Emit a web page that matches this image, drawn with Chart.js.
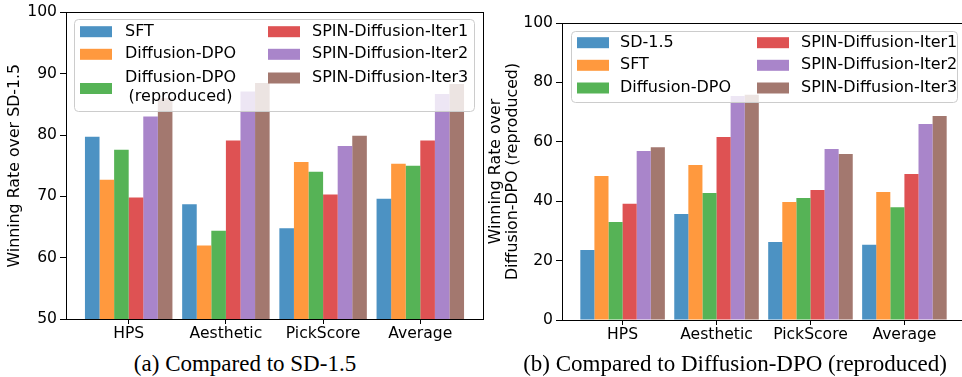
<!DOCTYPE html>
<html>
<head>
<meta charset="utf-8">
<script src="https://cdn.jsdelivr.net/npm/chart.js@4/dist/chart.umd.min.js"></script>
<style>
body { margin:0; background:#fff; width:962px; height:377px; overflow:hidden; position:relative; }
canvas { position:absolute; top:0; }
.cap { position:absolute; top:352px; font-family:"Liberation Serif", serif; font-size:23px; line-height:1; white-space:nowrap; transform:translateX(-50%); color:#000; }
</style>
</head>
<body>
<canvas id="left" width="490" height="345" style="left:0"></canvas>
<canvas id="right" width="484" height="345" style="left:484px"></canvas>
<div class="cap" style="left:245px">(a) Compared to SD-1.5</div>
<div class="cap" style="left:735px">(b) Compared to Diffusion-DPO (reproduced)</div>
<script>
// categories on the x axis
const categories = ['HPS', 'Aesthetic', 'PickScore', 'Average'];

// (a) winning rate over SD-1.5
const sftA = [79.7, 68.7, 64.8, 69.6];
const dpoA = [72.7, 62.0, 75.6, 75.3];
const dpoReproA = [77.6, 64.4, 74.0, 75.0];
const iter1A = [69.8, 79.1, 70.3, 79.1];
const iter2A = [83.0, 87.1, 78.2, 86.7];
const iter3A = [86.0, 88.5, 79.9, 88.3];

// (b) winning rate over Diffusion-DPO (reproduced)
const sdB = [23.6, 35.7, 26.3, 25.3];
const sftB = [48.5, 52.2, 39.7, 43.1];
const dpoB = [33.0, 42.8, 41.1, 38.0];
const iter1B = [39.1, 61.6, 43.8, 49.2];
const iter2B = [56.9, 75.4, 57.6, 66.0];
const iter3B = [58.2, 75.8, 55.9, 68.7];

const yTicksA = [50, 60, 70, 80, 90, 100];
const yTicksB = [0, 20, 40, 60, 80, 100];

// tab10 at alpha 0.8
const blue = 'rgba(31,119,180,0.8)';
const orange = 'rgba(255,127,14,0.8)';
const green = 'rgba(44,160,44,0.8)';
const red = 'rgba(214,39,40,0.8)';
const purple = 'rgba(148,103,189,0.8)';
const brown = 'rgba(140,86,75,0.8)';

const FONT = 'DejaVu Sans';

function ds(label, values, color) {
  return {
    label: label,
    data: values.map((v, i) => ({ x: i, y: v })),
    backgroundColor: color,
    borderWidth: 0,
    categoryPercentage: 0.9,
    barPercentage: 1.0
  };
}

// legend box inside the axes + full frame around the plot
const boxLegend = {
  id: 'boxLegend',
  afterDatasetsDraw(chart, args, opts) {
    const ctx = chart.ctx;
    const b = opts.box;
    ctx.save();
    ctx.beginPath();
    ctx.roundRect(b.x + 0.5, b.y + 0.5, b.w, b.h, 4);
    ctx.fillStyle = 'rgba(255,255,255,0.8)';
    ctx.fill();
    ctx.strokeStyle = '#cccccc';
    ctx.lineWidth = 1;
    ctx.stroke();
    ctx.font = '16px "' + FONT + '"';
    ctx.textBaseline = 'middle';
    chart.data.datasets.forEach((d, i) => {
      const it = opts.items[i];
      ctx.fillStyle = d.backgroundColor;
      ctx.fillRect(it.px, (it.py || it.y) - 5.5, 32, 11);
      ctx.fillStyle = '#000';
      const lines = d.label.split('\n');
      if (lines.length === 1) {
        ctx.textAlign = 'left';
        ctx.fillText(lines[0], it.tx, it.y);
      } else {
        const w = ctx.measureText(lines[0]).width;
        ctx.textAlign = 'center';
        lines.forEach((l, k) => {
          ctx.fillText(l, it.tx + w / 2, it.y + (k - (lines.length - 1) / 2) * 18.4);
        });
      }
    });
    ctx.restore();
  },
  afterDraw(chart) {
    const a = chart.chartArea;
    const ctx = chart.ctx;
    ctx.save();
    ctx.strokeStyle = '#000';
    ctx.lineWidth = 1;
    ctx.strokeRect(Math.round(a.left) + 0.5, Math.round(a.top) + 0.5,
      Math.round(a.right - a.left), Math.round(a.bottom - a.top));
    ctx.restore();
  }
};

function makeChart(id, datasets, yTicks, yTitle, yWidth, xHeight, pad, legend, titlePad) {
  return new Chart(document.getElementById(id), {
    type: 'bar',
    data: { datasets: datasets },
    plugins: [boxLegend],
    options: {
      responsive: false,
      animation: false,
      layout: { padding: pad },
      plugins: {
        legend: { display: false },
        tooltip: { enabled: false },
        boxLegend: legend
      },
      scales: {
        x: {
          type: 'linear',
          min: -0.645,
          max: 3.645,
          offset: false,
          afterBuildTicks: s => { s.ticks = categories.map((c, i) => ({ value: i })); },
          afterFit: s => { s.height = xHeight; },
          ticks: {
            callback: v => categories[v],
            font: { family: FONT, size: 15.6 },
            color: '#000',
            padding: 1,
            maxRotation: 0,
            autoSkip: false
          },
          grid: { offset: false, drawOnChartArea: false, drawTicks: true, tickLength: 5, color: '#000' },
          border: { display: true, color: '#000', width: 1 }
        },
        y: {
          min: yTicks[0],
          max: yTicks[yTicks.length - 1],
          afterBuildTicks: s => { s.ticks = yTicks.map(v => ({ value: v })); },
          afterFit: s => { s.width = yWidth; },
          ticks: { font: { family: FONT, size: 15.6 }, color: '#000', padding: 3 },
          grid: { drawOnChartArea: false, drawTicks: true, tickLength: 6, color: '#000' },
          border: { display: true, color: '#000', width: 1 },
          title: {
            display: true,
            text: yTitle,
            color: '#000',
            font: { family: FONT, size: 15.8, lineHeight: 1.05 },
            padding: { top: titlePad, bottom: 0 }
          }
        }
      }
    }
  });
}

makeChart('left', [
  ds('SFT', sftA, blue),
  ds('Diffusion-DPO', dpoA, orange),
  ds('Diffusion-DPO\n(reproduced)', dpoReproA, green),
  ds('SPIN-Diffusion-Iter1', iter1A, red),
  ds('SPIN-Diffusion-Iter2', iter2A, purple),
  ds('SPIN-Diffusion-Iter3', iter3A, brown)
], yTicksA, 'Winning Rate over SD-1.5', 66, 26, { top: 11, right: 7, left: 0, bottom: 0 }, {
  box: { x: 74, y: 19, w: 400, h: 92 },
  items: [
    { px: 80, tx: 125, y: 31.7 },
    { px: 80, tx: 125, y: 54.3 },
    { px: 80, tx: 125, y: 87.5, py: 88.5 },
    { px: 268, tx: 312, y: 31.7 },
    { px: 268, tx: 312, y: 54.3 },
    { px: 268, tx: 312, y: 78 }
  ]
}, 7);

makeChart('right', [
  ds('SD-1.5', sdB, blue),
  ds('SFT', sftB, orange),
  ds('Diffusion-DPO', dpoB, green),
  ds('SPIN-Diffusion-Iter1', iter1B, red),
  ds('SPIN-Diffusion-Iter2', iter2B, purple),
  ds('SPIN-Diffusion-Iter3', iter3B, brown)
], yTicksB, ['Winning Rate over', 'Diffusion-DPO (reproduced)'], 78, 25, { top: 23, right: 3, left: 0, bottom: 0 }, {
  box: { x: 87, y: 31, w: 386, h: 71 },
  items: [
    { px: 93, tx: 136, y: 42.7 },
    { px: 93, tx: 136, y: 65.3 },
    { px: 93, tx: 136, y: 88 },
    { px: 273, tx: 317, y: 42.7 },
    { px: 273, tx: 317, y: 65.3 },
    { px: 273, tx: 317, y: 88 }
  ]
}, 4);
</script>
</body>
</html>
